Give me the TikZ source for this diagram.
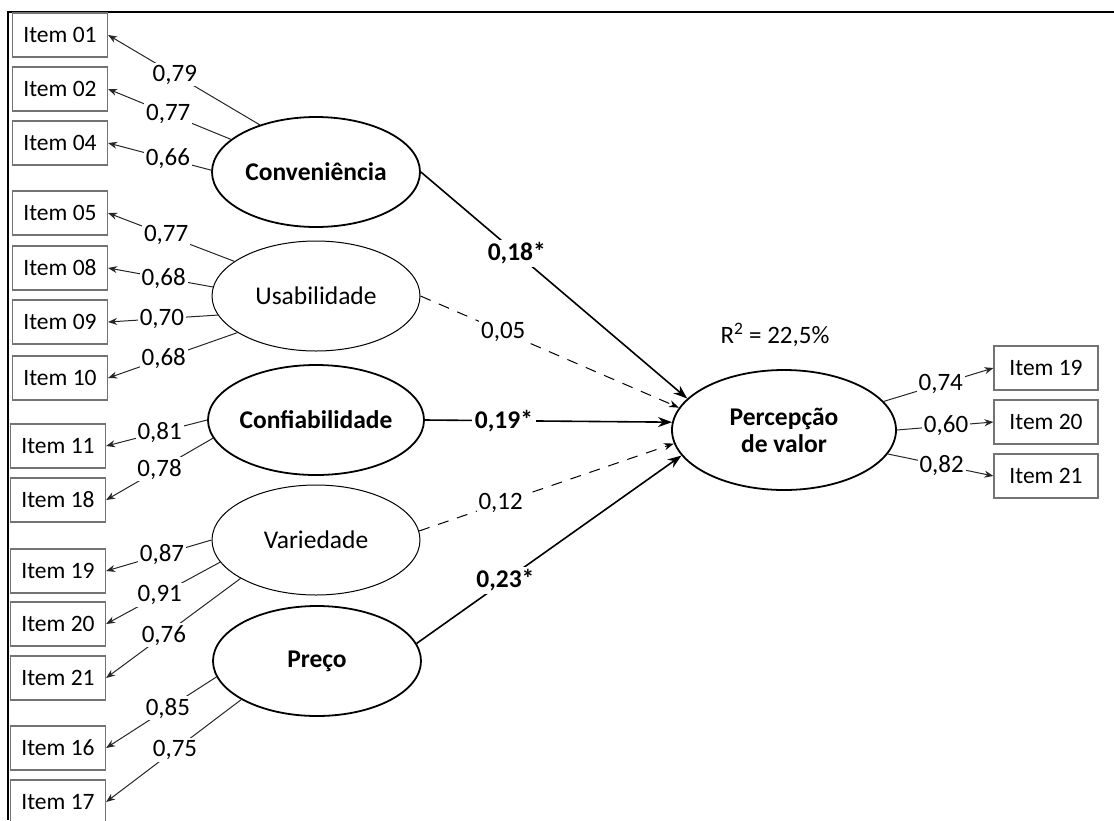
\documentclass[tikz,border=0pt]{standalone}
\usepackage{fontspec}
\setmainfont{Carlito}
\usetikzlibrary{arrows.meta,positioning,shapes.geometric}

\begin{document}
\begin{tikzpicture}[
    x=1pt, y=1pt,
    item/.style={draw=black!55, line width=1.2pt, minimum width=95pt,
        minimum height=44pt, inner sep=0pt, font=\fontsize{23.5}{27}\selectfont},
    latent/.style={ellipse, draw, line width=1pt, minimum width=208pt,
        minimum height=110pt, inner sep=0pt, font=\fontsize{25.5}{27}\selectfont},
    key/.style={latent, line width=1.8pt, font=\fontsize{25.5}{27}\selectfont\bfseries},
    lbl/.style={fill=white, inner sep=2pt, font=\fontsize{25}{27}\selectfont},
    coef/.style={lbl, inner sep=3pt, font=\fontsize{25.5}{27}\selectfont\bfseries},
    load/.style={-{Stealth[length=9pt,width=7pt]}, line width=1pt, draw=black!85},
    sig/.style={-{Stealth[length=14pt,width=10pt]}, line width=1.6pt},
    weak/.style={-{Stealth[length=10pt,width=7pt]}, line width=1pt,
        dash pattern=on 11pt off 9pt}
]
\useasboundingbox (0,0) rectangle (1114,-820);
\draw[line width=1.6pt] (8,-820) -- (8,-12) -- (1114,-12);

\node[item] (i01) at (60,-35) {Item 01};
\node[item] (i02) at (60,-89) {Item 02};
\node[item] (i04) at (60,-143) {Item 04};
\node[item] (i05) at (60,-213) {Item 05};
\node[item] (i08) at (60,-268) {Item 08};
\node[item] (i09) at (60,-322) {Item 09};
\node[item] (i10) at (60,-378) {Item 10};
\node[item] (i11) at (58,-446) {Item 11};
\node[item] (i18) at (58,-500) {Item 18};
\node[item] (i19) at (58,-571) {Item 19};
\node[item] (i20) at (58,-624) {Item 20};
\node[item] (i21) at (58,-678) {Item 21};
\node[item] (i16) at (58,-748) {Item 16};
\node[item] (i17) at (58,-802) {Item 17};

\node[key] (conv) at (316,-172) {Conveniência};
\node[latent] (usab) at (316,-296) {Usabilidade};
\node[key] (conf) at (316,-420) {Confiabilidade};
\node[latent] (var) at (316,-540) {Variedade};
\node[key] (preco) at (317,-661) {Preço};
\node[key, minimum width=224pt, minimum height=120pt, align=center] (pv) at (784,-430) {Percepção\\de valor};
\node[font=\fontsize{25}{27}\selectfont] (r2) at (775,-335) {R\textsuperscript{2} = 22,5\%};

\node[item, minimum width=104pt] (o19) at (1046,-368) {Item 19};
\node[item, minimum width=104pt] (o20) at (1046,-422) {Item 20};
\node[item, minimum width=104pt] (o21) at (1046,-476) {Item 21};

\draw[load] (conv.140) -- node[lbl,pos=0.56] {0,79} (i01.east);
\draw[load] (conv.159) -- node[lbl,pos=0.51] {0,77} (i02.east);
\draw[load] (conv.179) -- node[lbl,pos=0.42] {0,66} (i04.east);
\draw[load] (usab.157) -- node[lbl,pos=0.54] {0,77} (i05.east);
\draw[load] (usab.175) -- node[lbl,pos=0.47] {0,68} (i08.east);
\draw[load] (usab.191) -- node[lbl,pos=0.51] {0,70} (i09.east);
\draw[load] (usab.205) -- node[lbl,pos=0.57] {0,68} (i10.east);
\draw[load] (conf.180) -- node[lbl,pos=0.47] {0,81} (i11.east);
\draw[load] (conf.190) -- node[lbl,pos=0.5] {0,78} (i18.east);
\draw[load] (var.180) -- node[lbl,pos=0.47] {0,87} (i19.east);
\draw[load] (var.193) -- node[lbl,pos=0.53] {0,91} (i20.east);
\draw[load] (var.207) -- node[lbl,pos=0.57] {0,76} (i21.east);
\draw[load] (preco.189) -- node[lbl,pos=0.44] {0,85} (i16.east);
\draw[load] (preco.207) -- node[lbl,pos=0.49] {0,75} (i17.east);

\draw[sig] (conv.east) -- node[coef,pos=0.36] {0,18*} (pv.162);
\draw[weak] (usab.east) -- node[lbl,pos=0.32] {0,05} (pv.168);
\draw[sig] (conf.east) -- node[coef,pos=0.32] {0,19*} (pv.176);
\draw[weak] (var.5) -- node[lbl,pos=0.32] {0,12} (pv.187);
\draw[sig] (preco.10) -- node[coef,pos=0.335] {0,23*} (pv.194);

\draw[load] (pv.16) -- node[lbl,pos=0.52] {0,74} (o19.west);
\draw[load] (pv.east) -- node[lbl,pos=0.51] {0,60} (o20.west);
\draw[load] (pv.-13) -- node[lbl,pos=0.51] {0,82} (o21.west);
\end{tikzpicture}
\end{document}
